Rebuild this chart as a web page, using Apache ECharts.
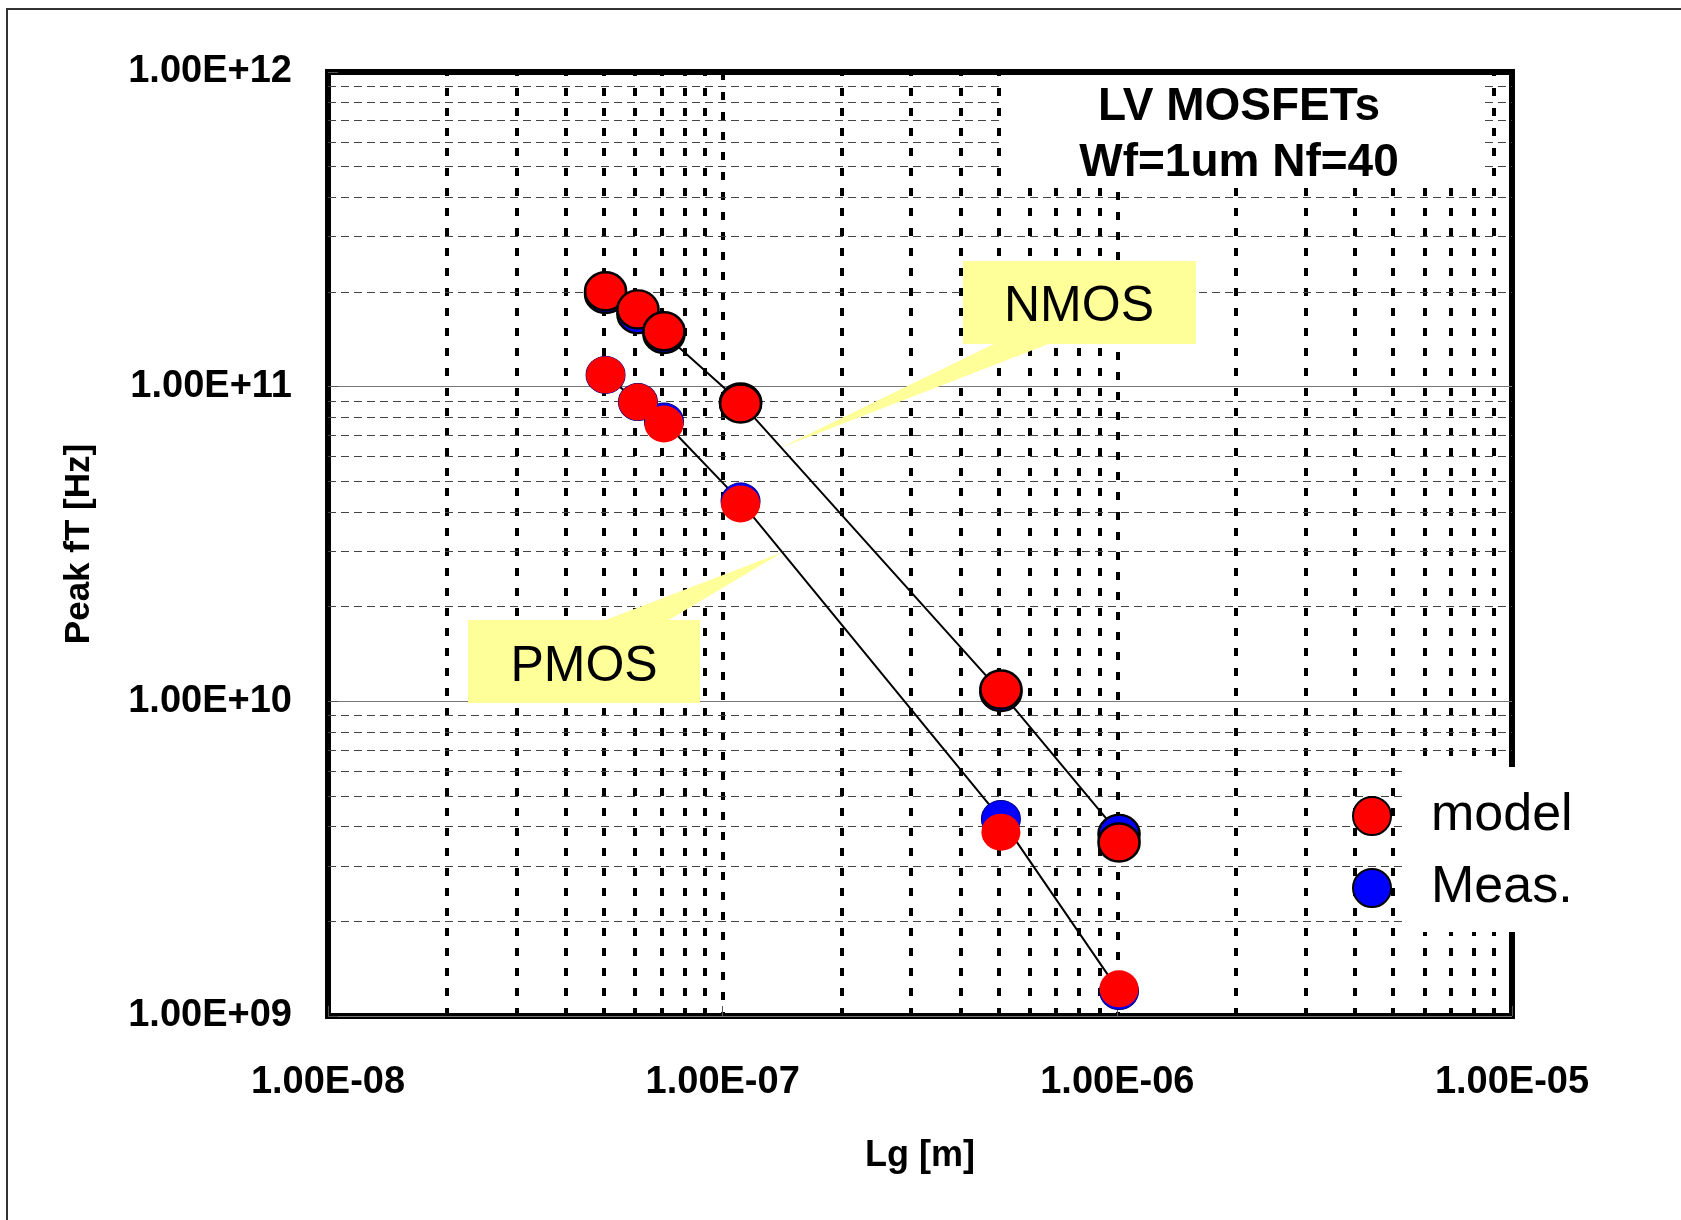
<!DOCTYPE html>
<html><head><meta charset="utf-8">
<script src="https://cdn.jsdelivr.net/npm/echarts@6/dist/echarts.min.js"></script>
<style>html,body{margin:0;padding:0;background:#fff}#c{width:1681px;height:1220px}</style>
</head><body><div id="c"></div>
<script>
// ---- data ----
const lgNmos = [5.05e-8, 6.1e-8, 7.1e-8, 1.11e-7, 5.07e-7, 1.01e-6];
const ftNmosModel = [2.01e11, 1.76e11, 1.50e11, 8.84e10, 1.09e10, 3.56e9];
const ftNmosMeas  = [1.97e11, 1.70e11, 1.47e11, 8.91e10, 1.07e10, 3.79e9];
const lgPmos = [5.05e-8, 6.1e-8, 7.1e-8, 1.11e-7, 5.07e-7, 1.01e-6];
const ftPmosModel = [1.09e11, 8.94e10, 7.61e10, 4.24e10, 3.84e9, 1.22e9];
const ftPmosMeas  = [1.09e11, 8.94e10, 7.75e10, 4.32e10, 4.23e9, 1.20e9];

const xTickLabels = ['1.00E-08', '1.00E-07', '1.00E-06', '1.00E-05'];
const yTickLabels = ['1.00E+09', '1.00E+10', '1.00E+11', '1.00E+12'];
const xMinorGrid = [2e-8,3e-8,4e-8,5e-8,6e-8,7e-8,8e-8,9e-8,
                    2e-7,3e-7,4e-7,5e-7,6e-7,7e-7,8e-7,9e-7,
                    2e-6,3e-6,4e-6,5e-6,6e-6,7e-6,8e-6,9e-6];
const yMinorGrid = [2e9,3e9,4e9,5e9,6e9,7e9,8e9,9e9,
                    2e10,3e10,4e10,5e10,6e10,7e10,8e10,9e10,
                    2e11,3e11,4e11,5e11,6e11,7e11,8e11,9e11];
const xRange = [1e-8, 1e-5];
const yRange = [1e9, 1e12];

const FONT = "'Liberation Sans', Arial, sans-serif";
const pairs = (xs, ys) => xs.map((x, i) => [x, ys[i]]);
const expIdx = (v, base) => Math.round(Math.log10(v)) - base;

const chart = echarts.init(document.getElementById('c'), null, {renderer: 'canvas'});
const G = {left: 328, top: 72, width: 1184, height: 944};

const option = {
  animation: false,
  backgroundColor: '#fff',
  grid: {left: G.left, top: G.top, width: G.width, height: G.height,
         show: true, borderWidth: 6, borderColor: '#000', backgroundColor: 'transparent', z: 0},
  xAxis: {
    type: 'log', logBase: 10, min: xRange[0], max: xRange[1], splitNumber: 3,
    name: 'Lg [m]', nameLocation: 'middle', nameGap: 122,
    nameTextStyle: {fontFamily: FONT, fontWeight: 'bold', fontSize: 36, color: '#000'},
    axisLine: {show: false},
    axisTick: {show: true, inside: true, length: 10, lineStyle: {color: '#555', width: 1}},
    axisLabel: {margin: 48, fontFamily: FONT, fontWeight: 'bold', fontSize: 38, color: '#000',
                formatter: v => xTickLabels[expIdx(v, -8)]},
    splitLine: {show: true, showMinLine: false, showMaxLine: false,
                lineStyle: {color: '#000', width: 4, type: [8, 12]}},
    minorTick: {show: false}, minorSplitLine: {show: false}
  },
  yAxis: {
    type: 'log', logBase: 10, min: yRange[0], max: yRange[1], splitNumber: 3,
    name: 'Peak fT [Hz]', nameLocation: 'middle', nameGap: 231,
    nameTextStyle: {fontFamily: FONT, fontWeight: 'bold', fontSize: 35, color: '#000'},
    axisLine: {show: false},
    axisTick: {show: true, inside: true, length: 10, lineStyle: {color: '#555', width: 1}},
    axisLabel: {margin: 36, fontFamily: FONT, fontWeight: 'bold', fontSize: 38, color: '#000',
                padding: [6, 0, 0, 0],
                formatter: v => yTickLabels[expIdx(v, 9)]},
    splitLine: {show: true, showMinLine: false, showMaxLine: false,
                lineStyle: {color: '#777', width: 1, type: 'solid'}}
  },
  legend: {
    orient: 'vertical', left: 1347, top: 785, z: 30,
    data: ['model', 'Meas.'], icon: 'circle',
    itemWidth: 108, itemHeight: 38, itemGap: 20, selectedMode: false,
    textStyle: {fontFamily: FONT, fontSize: 52, color: '#000', lineHeight: 52}
  },
  graphic: [
    // title box
    {type: 'rect', z: 10, shape: {x: 1003, y: 75, width: 477, height: 113}, style: {fill: '#fff'}},
    {type: 'text', z: 11, x: 1239, y: 107, style: {text: 'LV MOSFETs', fill: '#000',
      font: "bold 46px 'Liberation Sans', Arial, sans-serif", textAlign: 'center', textVerticalAlign: 'middle'}},
    {type: 'text', z: 11, x: 1239, y: 163, style: {text: 'Wf=1um Nf=40', fill: '#000',
      font: "bold 46px 'Liberation Sans', Arial, sans-serif", textAlign: 'center', textVerticalAlign: 'middle'}},
    // legend box
    {type: 'rect', z: 10, shape: {x: 1404, y: 767, width: 200, height: 165}, style: {fill: '#fff'}},
    // NMOS callout
    {type: 'polygon', z: 10, shape: {points: [[780, 448], [996, 343], [1051, 343]]}, style: {fill: '#FFFF99'}},
    {type: 'rect', z: 10, shape: {x: 963, y: 261, width: 233, height: 83}, style: {fill: '#FFFF99'}},
    {type: 'text', z: 11, x: 1079, y: 307, style: {text: 'NMOS', fill: '#000',
      font: "50px 'Liberation Sans', Arial, sans-serif", textAlign: 'center', textVerticalAlign: 'middle'}},
    // PMOS callout
    {type: 'polygon', z: 10, shape: {points: [[783, 552], [603, 621], [667, 621]]}, style: {fill: '#FFFF99'}},
    {type: 'rect', z: 10, shape: {x: 468, y: 620, width: 232, height: 83}, style: {fill: '#FFFF99'}},
    {type: 'text', z: 11, x: 584, y: 667, style: {text: 'PMOS', fill: '#000',
      font: "50px 'Liberation Sans', Arial, sans-serif", textAlign: 'center', textVerticalAlign: 'middle'}},
    // outer border (top and left visible)
    {type: 'rect', z: 1, shape: {x: 7, y: 9, width: 1720, height: 1260}, style: {fill: 'none', stroke: '#333', lineWidth: 2}}
  ],
  series: [
    {
      name: 'gridV', type: 'line', data: [], silent: true, z: 1,
      markLine: {silent: true, symbol: 'none', z: 1, precision: 15, animation: false, label: {show: false},
        lineStyle: {color: '#000', width: 4, type: [8, 12]},
        data: xMinorGrid.map(v => [{coord: [v, yRange[0]]}, {coord: [v, yRange[1]]}])}
    },
    {
      name: 'gridH', type: 'line', data: [], silent: true, z: 1,
      markLine: {silent: true, symbol: 'none', z: 1, precision: 15, animation: false, label: {show: false},
        lineStyle: {color: '#444', width: 1, type: [8, 5]},
        data: yMinorGrid.map(v => ({yAxis: v}))}
    },
    {name: 'NMOS line', type: 'line', z: 12, data: pairs(lgNmos, ftNmosMeas), showSymbol: false, symbol: 'none',
     lineStyle: {color: '#000', width: 2}},
    {name: 'PMOS line', type: 'line', z: 12, data: pairs(lgPmos, ftPmosMeas), showSymbol: false, symbol: 'none',
     lineStyle: {color: '#000', width: 2}},
    {name: 'Meas.', type: 'scatter', z: 13, data: pairs(lgNmos, ftNmosMeas), symbol: 'circle', symbolSize: [41, 38],
     itemStyle: {color: '#0000FF', borderColor: '#000', borderWidth: 2.5, opacity: 1}},
    {name: 'Meas.', type: 'scatter', z: 13, data: pairs(lgPmos, ftPmosMeas), symbol: 'circle', symbolSize: [39, 37],
     itemStyle: {color: '#0000FF', borderColor: '#000080', borderWidth: 1, opacity: 1}},
    {name: 'model', type: 'scatter', z: 14, data: pairs(lgNmos, ftNmosModel), symbol: 'circle', symbolSize: [41, 38],
     itemStyle: {color: '#FF0000', borderColor: '#000', borderWidth: 2.5, opacity: 1}},
    {name: 'model', type: 'scatter', z: 14, data: pairs(lgPmos, ftPmosModel), symbol: 'circle', symbolSize: [39, 37],
     itemStyle: {color: '#FF0000', borderWidth: 0, opacity: 1}}
  ]
};
chart.setOption(option);
</script></body></html>
